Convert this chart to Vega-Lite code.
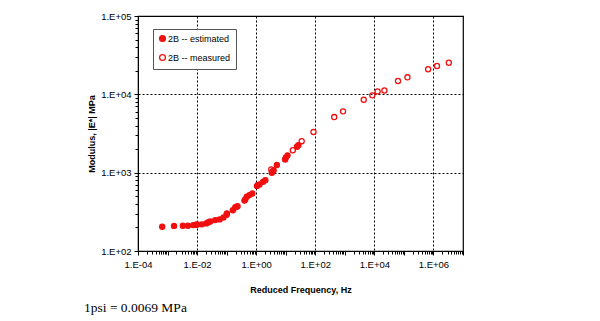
{
  "$schema": "https://vega.github.io/schema/vega-lite/v6.json",
  "autosize": "none",
  "width": 325,
  "height": 235,
  "padding": {"left": 138, "top": 16, "right": 137, "bottom": 70},
  "background": "white",
  "config": {
    "font": "Liberation Sans",
    "view": {"stroke": "black", "strokeWidth": 1.2},
    "axis": {"labelFont": "Liberation Sans", "titleFont": "Liberation Sans"}
  },
  "title": {
    "text": "1psi = 0.0069 MPa",
    "orient": "bottom",
    "anchor": "start",
    "frame": "group",
    "dx": -54,
    "offset": 6,
    "font": "Liberation Serif",
    "fontSize": 13.5,
    "fontWeight": "normal",
    "color": "black"
  },
  "data": {
    "values": [
      {"f": 0.00066, "E": 204, "series": "2B -- estimated"},
      {"f": 0.00166, "E": 209, "series": "2B -- estimated"},
      {"f": 0.0033, "E": 210, "series": "2B -- estimated"},
      {"f": 0.0049, "E": 210, "series": "2B -- estimated"},
      {"f": 0.0074, "E": 214, "series": "2B -- estimated"},
      {"f": 0.0093, "E": 216, "series": "2B -- estimated"},
      {"f": 0.0100, "E": 218, "series": "2B -- estimated"},
      {"f": 0.0145, "E": 219, "series": "2B -- estimated"},
      {"f": 0.0204, "E": 225, "series": "2B -- estimated"},
      {"f": 0.024, "E": 233, "series": "2B -- estimated"},
      {"f": 0.028, "E": 238, "series": "2B -- estimated"},
      {"f": 0.041, "E": 248, "series": "2B -- estimated"},
      {"f": 0.058, "E": 253, "series": "2B -- estimated"},
      {"f": 0.078, "E": 268, "series": "2B -- estimated"},
      {"f": 0.1, "E": 290, "series": "2B -- estimated"},
      {"f": 0.102, "E": 302, "series": "2B -- estimated"},
      {"f": 0.162, "E": 332, "series": "2B -- estimated"},
      {"f": 0.195, "E": 361, "series": "2B -- estimated"},
      {"f": 0.21, "E": 365, "series": "2B -- estimated"},
      {"f": 0.234, "E": 373, "series": "2B -- estimated"},
      {"f": 0.4, "E": 440, "series": "2B -- estimated"},
      {"f": 0.427, "E": 454, "series": "2B -- estimated"},
      {"f": 0.479, "E": 494, "series": "2B -- estimated"},
      {"f": 0.589, "E": 517, "series": "2B -- estimated"},
      {"f": 0.741, "E": 543, "series": "2B -- estimated"},
      {"f": 1.05, "E": 675, "series": "2B -- estimated"},
      {"f": 1.12, "E": 690, "series": "2B -- estimated"},
      {"f": 1.29, "E": 707, "series": "2B -- estimated"},
      {"f": 1.70, "E": 763, "series": "2B -- estimated"},
      {"f": 2.04, "E": 802, "series": "2B -- estimated"},
      {"f": 3.39, "E": 997, "series": "2B -- estimated"},
      {"f": 3.55, "E": 1030, "series": "2B -- estimated"},
      {"f": 3.89, "E": 1072, "series": "2B -- estimated"},
      {"f": 5.01, "E": 1251, "series": "2B -- estimated"},
      {"f": 9.55, "E": 1472, "series": "2B -- estimated"},
      {"f": 10.0, "E": 1550, "series": "2B -- estimated"},
      {"f": 11.5, "E": 1664, "series": "2B -- estimated"},
      {"f": 24.0, "E": 2141, "series": "2B -- estimated"},
      {"f": 26.9, "E": 2245, "series": "2B -- estimated"},
      {"f": 3.24, "E": 1099, "series": "2B -- measured"},
      {"f": 17.4, "E": 1934, "series": "2B -- measured"},
      {"f": 34.7, "E": 2522, "series": "2B -- measured"},
      {"f": 87.1, "E": 3303, "series": "2B -- measured"},
      {"f": 437, "E": 5130, "series": "2B -- measured"},
      {"f": 871, "E": 6060, "series": "2B -- measured"},
      {"f": 4365, "E": 8530, "series": "2B -- measured"},
      {"f": 8511, "E": 9710, "series": "2B -- measured"},
      {"f": 12880, "E": 10900, "series": "2B -- measured"},
      {"f": 21880, "E": 11200, "series": "2B -- measured"},
      {"f": 63100, "E": 14800, "series": "2B -- measured"},
      {"f": 131800, "E": 16500, "series": "2B -- measured"},
      {"f": 660700, "E": 20900, "series": "2B -- measured"},
      {"f": 1318000, "E": 23000, "series": "2B -- measured"},
      {"f": 3311000, "E": 25300, "series": "2B -- measured"}
    ]
  },
  "mark": {"type": "point", "filled": false, "size": 26, "strokeWidth": 1.3, "opacity": 1},
  "encoding": {
    "x": {
      "field": "f",
      "type": "quantitative",
      "scale": {"type": "log", "domain": [0.0001, 10000000], "nice": false},
      "axis": {
        "title": "Reduced Frequency, Hz",
        "titleFontSize": 9,
        "titleFontWeight": "bold",
        "titlePadding": 17,
        "tickCount": 40,
        "labelFontSize": 9.5,
        "labelPadding": 4,
        "labelOverlap": false,
        "labelFlush": false,
        "labelExpr": "(abs(log(datum.value)/LN10 - round(log(datum.value)/LN10)) < 0.001 && round(log(datum.value)/LN10) % 2 == 0) ? ('1.E' + (round(log(datum.value)/LN10) < 0 ? '-' : '+') + (abs(round(log(datum.value)/LN10)) < 10 ? '0' : '') + abs(round(log(datum.value)/LN10))) : ''",
        "domainColor": "black",
        "tickColor": "black",
        "tickSize": {"condition": {"test": "abs(log(datum.value)/LN10 - round(log(datum.value)/LN10)) < 0.001", "value": 4}, "value": 3},
        "grid": true,
        "gridColor": "black",
        "gridDash": [2, 2],
        "gridWidth": 1,
        "gridOpacity": {"condition": {"test": "abs(log(datum.value)/LN10 - round(log(datum.value)/LN10)) < 0.001 && round(log(datum.value)/LN10) % 2 == 0", "value": 1}, "value": 0}
      }
    },
    "y": {
      "field": "E",
      "type": "quantitative",
      "scale": {"type": "log", "domain": [100, 100000], "nice": false},
      "axis": {
        "title": "Modulus, |E*| MPa",
        "titleFontSize": 9,
        "titleFontWeight": "bold",
        "titlePadding": 4,
        "tickCount": 20,
        "labelFontSize": 9.5,
        "labelPadding": 3,
        "labelOverlap": false,
        "labelExpr": "(abs(log(datum.value)/LN10 - round(log(datum.value)/LN10)) < 0.001) ? ('1.E' + (round(log(datum.value)/LN10) < 0 ? '-' : '+') + (abs(round(log(datum.value)/LN10)) < 10 ? '0' : '') + abs(round(log(datum.value)/LN10))) : ''",
        "domainColor": "black",
        "tickColor": "black",
        "tickSize": {"condition": {"test": "abs(log(datum.value)/LN10 - round(log(datum.value)/LN10)) < 0.001", "value": 4}, "value": 3},
        "grid": true,
        "gridColor": "black",
        "gridDash": [2, 2],
        "gridWidth": 1,
        "gridOpacity": {"condition": {"test": "abs(log(datum.value)/LN10 - round(log(datum.value)/LN10)) < 0.001", "value": 1}, "value": 0}
      }
    },
    "fill": {
      "field": "series",
      "type": "nominal",
      "scale": {"domain": ["2B -- estimated", "2B -- measured"], "range": ["#f01010", "transparent"]},
      "legend": {
        "title": null,
        "orient": "none",
        "legendX": 15,
        "legendY": 13,
        "direction": "vertical",
        "strokeColor": "#555555",
        "fillColor": "white",
        "padding": 5,
        "rowPadding": 6,
        "labelFontSize": 9,
        "labelFont": "Liberation Sans",
        "symbolSize": 34,
        "symbolStrokeWidth": 1.3,
        "labelOffset": 1
      }
    },
    "stroke": {
      "field": "series",
      "type": "nominal",
      "scale": {"domain": ["2B -- estimated", "2B -- measured"], "range": ["#f01010", "#f01010"]}
    },
    "shape": {"value": "circle"}
  }
}
